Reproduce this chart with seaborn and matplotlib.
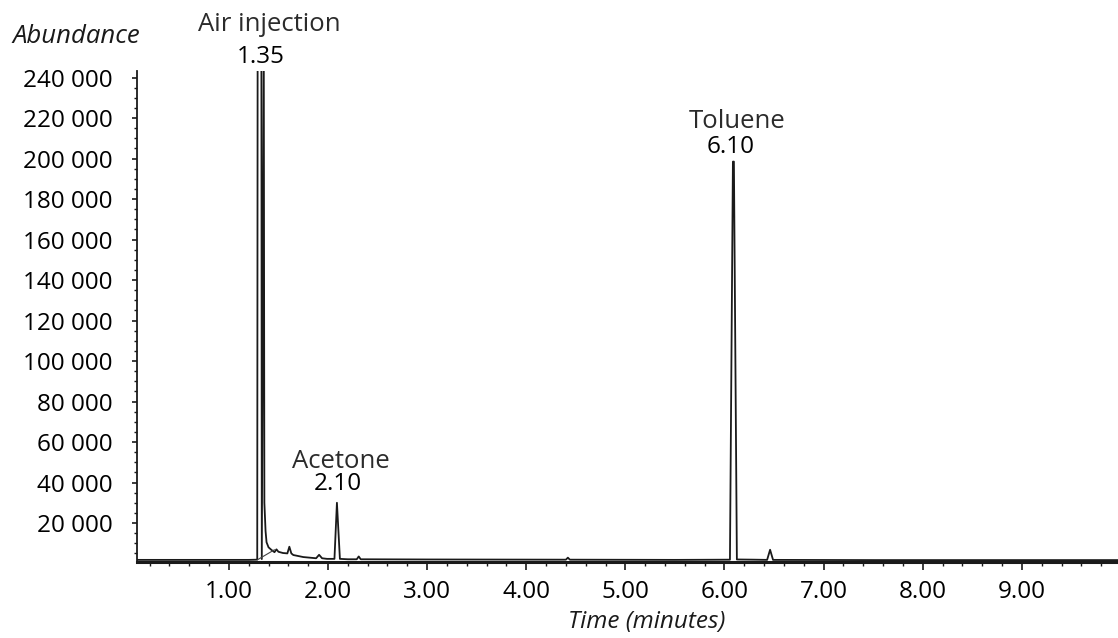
import matplotlib
matplotlib.use("Agg")
import matplotlib.pyplot as plt
import matplotlib.transforms as mtransforms
from matplotlib.ticker import MultipleLocator, FuncFormatter
import seaborn as sns
import pandas as pd

# ---- data ----
time_min = [0.07, 1.20, 1.286, 1.290, 1.328, 1.332, 1.352, 1.358, 1.37, 1.38, 1.40, 1.43,
            1.46, 1.48, 1.50, 1.545, 1.59, 1.61, 1.63, 1.65, 1.75, 1.88, 1.91, 1.94,
            1.99, 2.065, 2.09, 2.12, 2.20, 2.29, 2.31, 2.33, 3.00, 4.40, 4.42, 4.44,
            5.50, 6.055, 6.085, 6.095, 6.125, 6.30, 6.43, 6.46, 6.49, 7.50, 9.98]
abundance = [1800, 1800, 1900, 252000, 252000, 2200, 252000, 30000, 16000, 10500, 8000, 6700,
             5600, 7000, 5800, 5200, 5000, 8300, 5000, 4200, 3200, 2600, 4300, 2600,
             2300, 2300, 30000, 2300, 2100, 2100, 3500, 2100, 2000, 1900, 2900, 1900,
             1800, 1900, 198500, 198500, 2000, 1900, 1800, 6800, 1800, 1700, 1700]

# integration baseline under the air peak
base_t = [1.29, 1.46]
base_v = [1900, 6800]

# peak annotations
peak_names = ["Air injection", "Acetone", "Toluene"]
peak_rt_labels = ["1.35", "2.10", "6.10"]

y_ticks = [20000, 40000, 60000, 80000, 100000, 120000, 140000, 160000, 180000,
           200000, 220000, 240000]
x_ticks = [1, 2, 3, 4, 5, 6, 7, 8, 9]

# ---- plot ----
sns.set_theme(style="white")
FONT = ["Open Sans", "DejaVu Sans"]
plt.rcParams["font.family"] = FONT

W, H = 1118, 638
fig = plt.figure(figsize=(W / 100, H / 100), dpi=100)
ax = fig.add_axes([137 / W, 1 - 561.5 / H, 1 - 137 / W, (561.5 - 70.5) / H])

df = pd.DataFrame({"t": time_min, "a": abundance})
sns.lineplot(data=df, x="t", y="a", ax=ax, color="#1a1a1a", linewidth=1.3,
             estimator=None, sort=False)
dfb = pd.DataFrame({"t": base_t, "a": base_v})
sns.lineplot(data=dfb, x="t", y="a", ax=ax, color="#444444", linewidth=0.8,
             estimator=None, sort=False)

ax.set_xlim(0.073, 9.97)
ax.set_ylim(1000, 243500)

ax.set_xticks(x_ticks)
ax.xaxis.set_minor_locator(MultipleLocator(0.2))
ax.xaxis.set_major_formatter(FuncFormatter(lambda v, p: f"{v:.2f}"))
ax.set_yticks(y_ticks)
ax.yaxis.set_minor_locator(MultipleLocator(5000))
ax.yaxis.set_major_formatter(FuncFormatter(lambda v, p: f"{v:,.0f}".replace(",", " ")))

for s in ["top", "right"]:
    ax.spines[s].set_visible(False)
ax.spines["bottom"].set_linewidth(2.2)
ax.spines["left"].set_linewidth(1.3)
for s in ["bottom", "left"]:
    ax.spines[s].set_color("#1a1a1a")

TICK_FS = 17.5
ax.tick_params(axis="x", which="major", direction="out", length=6, width=1.2,
               pad=7, labelsize=TICK_FS, colors="#1a1a1a", bottom=True)
ax.tick_params(axis="x", which="minor", direction="out", length=3, width=1.0,
               colors="#1a1a1a", bottom=True)
ax.tick_params(axis="y", which="major", direction="out", length=3.5, width=1.2,
               pad=14, labelsize=TICK_FS, colors="#1a1a1a", left=True)
ax.tick_params(axis="y", which="minor", direction="out", length=2, width=1.0,
               colors="#1a1a1a", left=True)
for lab in ax.get_xticklabels() + ax.get_yticklabels():
    lab.set_color("black")

ax.set_xlabel("")
ax.set_ylabel("")

NAME_FS = 18.5
NUM_FS = 17.5
# annotations
trans_top = mtransforms.blended_transform_factory(ax.transData, ax.transAxes)
ax.text(1.405, 1.0804, peak_names[0], transform=trans_top, ha="center", va="baseline",
        fontsize=NAME_FS, color="#2b2b2b", clip_on=False)
ax.text(1.324, 1.0153, peak_rt_labels[0], transform=trans_top, ha="center", va="baseline",
        fontsize=NUM_FS, color="black", clip_on=False)

ax.text(2.13, 47200, peak_names[1], ha="center", va="baseline", fontsize=NAME_FS, color="#2b2b2b")
ax.text(2.10, 36300, peak_rt_labels[1], ha="center", va="baseline", fontsize=NUM_FS, color="black")

ax.text(6.127, 215000, peak_names[2], ha="center", va="baseline", fontsize=NAME_FS, color="#2b2b2b")
ax.text(6.066, 202700, peak_rt_labels[2], ha="center", va="baseline", fontsize=NUM_FS, color="black")

fig.text(12 / W, 1 - 43 / H, "Abundance", ha="left", va="baseline", fontsize=18.5,
         style="italic", color="#1a1a1a")
fig.text(725 / W, 1 - 628 / H, "Time (minutes)", ha="right", va="baseline", fontsize=17.5,
         style="italic", color="#1a1a1a")

fig.savefig("out.png", dpi=100)
